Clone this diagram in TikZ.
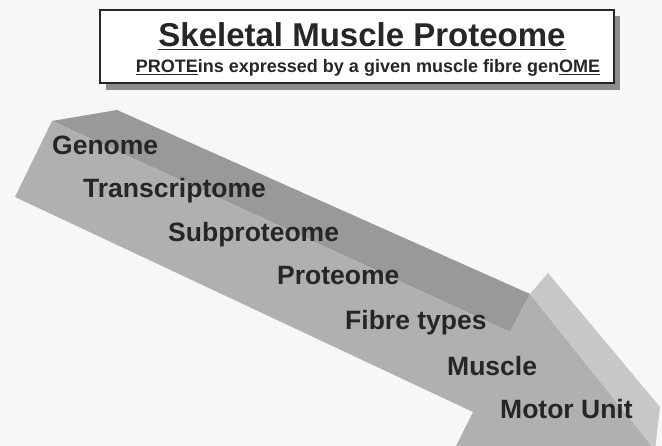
\documentclass[tikz,border=0pt]{standalone}
\usepackage{fontspec}
\setmainfont{Liberation Sans}
\usetikzlibrary{positioning}

\begin{document}
\begin{tikzpicture}[x=1bp, y=-1bp,
    level/.style={anchor=base west, inner sep=0pt, text=black!85,
      font=\fontsize{26.5bp}{30bp}\selectfont\bfseries},
    ttl/.style={anchor=base, inner sep=0pt, text=black!85,
      font=\fontsize{33bp}{36bp}\selectfont\bfseries},
    sub/.style={anchor=base, inner sep=0pt, text=black!85,
      font=\fontsize{18bp}{20bp}\selectfont\bfseries},
    titlebox/.style={draw=black!85, line width=2bp, fill=white, inner sep=0pt,
      minimum width=514bp, minimum height=73bp},
  ]
  \useasboundingbox[fill=black!3] (0,0) rectangle (662,446);
  % corners of the 3-d arrow
  \coordinate (a) at (52,121);
  \coordinate (b) at (117,110);
  \coordinate (e) at (530,294);
  \coordinate (d) at (510,332);
  \coordinate (f) at (548,273);
  \coordinate (g) at (660,407);
  \coordinate (h) at (655,450);
  \coordinate (l) at (454,450);
  \coordinate (j) at (473,412);
  \coordinate (k) at (15,197);
  \fill[black!40] (a) -- (b) -- (e) -- (d) -- cycle;
  \fill[black!31] (k) -- (a) -- (d) -- (e) -- (h) -- (l) -- (j) -- cycle;
  \fill[black!22] (e) -- (f) -- (g) -- (h) -- cycle;
  % title box with its shadow
  \fill[black!45] (106,16) rectangle (620,90);
  \node[titlebox] (box) at (357,46.5) {};
  \node[ttl] (title) at (362,47) {\underline{Skeletal Muscle Proteome}};
  \node[sub] (subtitle) at (368,73) {\underline{PROTE}ins expressed by a given muscle fibre gen\underline{OME}};
  % levels along the arrow
  \node[level] (genome) at (52,155) {Genome};
  \node[level] (transcr) at (83,198) {Transcriptome};
  \node[level] (subprot) at (168,242) {Subproteome};
  \node[level] (prot) at (277,285) {Proteome};
  \node[level] (fibre) at (345,330) {Fibre types};
  \node[level] (muscle) at (447,375) {Muscle};
  \node[level] (motor) at (500,418) {Motor Unit};
\end{tikzpicture}
\end{document}
